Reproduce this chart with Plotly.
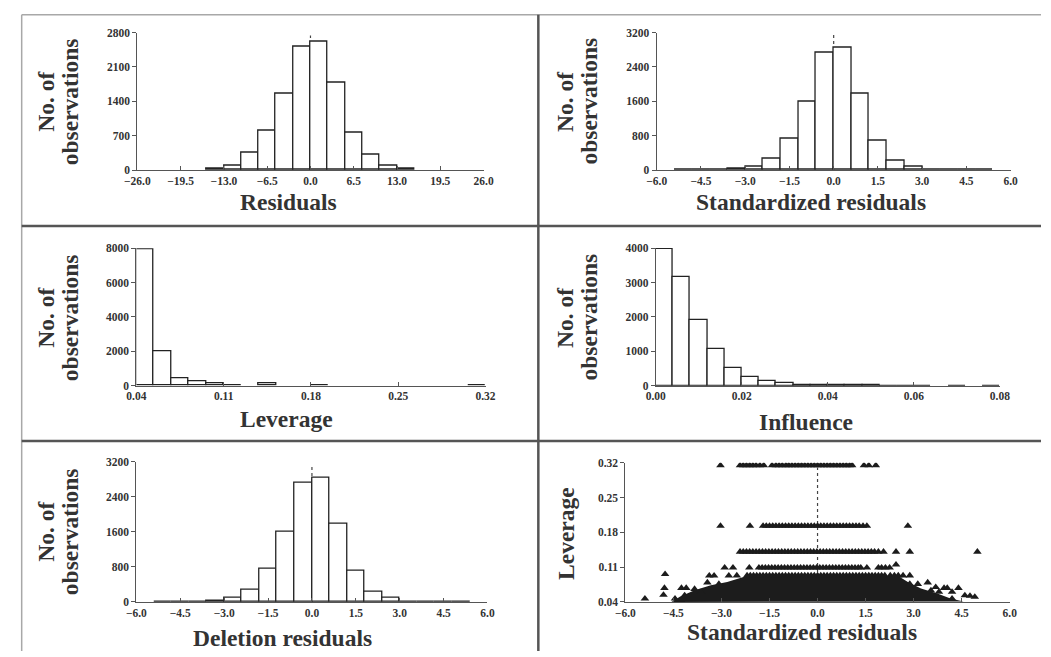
import plotly.graph_objects as go

# The page adds an 8px body margin, so the figure is 8px smaller than the window
OFF = 8
W, H = 1051 - OFF, 657 - OFF

# ---------------- data ----------------
# Residuals histogram (bin width 2.6)
res_bin_left = [-15.6, -13.0, -10.4, -7.8, -5.2, -2.6, 0.0, 2.6, 5.2, 7.8, 10.4, 13.0]
res_counts = [25, 100, 360, 800, 1560, 2510, 2620, 1790, 760, 310, 100, 25]
res_width = 2.6

# Standardized residuals histogram (bin width 0.6)
std_bin_left = [-5.4, -4.8, -4.2, -3.6, -3.0, -2.4, -1.8, -1.2, -0.6, 0.0, 0.6, 1.2, 1.8, 2.4, 3.0, 3.6, 4.2, 4.8]
std_counts = [2, 2, 3, 30, 80, 270, 740, 1590, 2740, 2850, 1775, 690, 220, 80, 8, 3, 2, 2]
std_width = 0.6

# Deletion residuals histogram (bin width 0.6)
del_bin_left = [-5.4, -4.8, -4.2, -3.6, -3.0, -2.4, -1.8, -1.2, -0.6, 0.0, 0.6, 1.2, 1.8, 2.4, 3.0, 3.6, 4.2, 4.8]
del_counts = [2, 2, 3, 30, 90, 285, 755, 1590, 2730, 2830, 1780, 715, 240, 95, 8, 3, 2, 2]
del_width = 0.6

# Leverage histogram (bin width 0.014)
lev_bin_left = [0.040, 0.054, 0.068, 0.082, 0.096, 0.110, 0.138, 0.180, 0.306]
lev_counts = [7950, 2000, 450, 250, 150, 40, 160, 30, 40]
lev_width = 0.014

# Influence histogram (bin width 0.004)
inf_bin_left = [0.000, 0.004, 0.008, 0.012, 0.016, 0.020, 0.024, 0.028, 0.032, 0.036,
                0.040, 0.044, 0.048, 0.052, 0.056, 0.060, 0.068, 0.076]
inf_counts = [3980, 3150, 1910, 1050, 520, 260, 120, 70, 20, 10, 8, 5, 4, 3, 3, 3, 2, 2]
inf_width = 0.004

# Leverage vs standardized residuals scatter: rows of points by leverage level
row_032_lev = 0.315
row_032_x = [-3.03, -2.42, -2.32, -2.22, -2.12, -2.02, -1.92, -1.8, -1.68, -1.42, -1.3, -1.2,
             -1.1, -0.99, -0.9, -0.8, -0.7, -0.6, -0.5, -0.4, -0.3, -0.2, -0.1, 0.0, 0.1, 0.2,
             0.3, 0.4, 0.5, 0.6, 0.7, 0.8, 0.9, 1.0, 1.08, 1.45, 1.6, 1.82]
row_019_lev = 0.193
row_019_x = [-3.03, -2.11, -1.7, -1.6, -1.5, -1.4, -1.3, -1.2, -1.1, -1.0, -0.9, -0.8, -0.7,
             -0.6, -0.5, -0.4, -0.3, -0.2, -0.1, 0.0, 0.1, 0.2, 0.3, 0.4, 0.5, 0.6, 0.7, 0.8,
             0.9, 1.0, 1.1, 1.2, 1.3, 1.42, 1.54, 2.82]
row_014_lev = 0.141
row_014_x = [-2.42, -2.32, -2.22, -2.12, -2.02, -1.92, -1.82, -1.72, -1.62, -1.52, -1.42, -1.32,
             -1.22, -1.12, -1.02, -0.92, -0.82, -0.72, -0.62, -0.52, -0.42, -0.32, -0.22, -0.12,
             -0.02, 0.08, 0.18, 0.28, 0.38, 0.48, 0.58, 0.68, 0.78, 0.88, 0.98, 1.08, 1.18,
             1.28, 1.38, 1.48, 1.58, 1.68, 1.78, 1.9, 2.06, 2.45, 2.88, 4.99]
row_011_lev = 0.109
row_011_x = [-2.9, -2.64, -2.13, -1.83, -1.73, -1.63, -1.53, -1.43, -1.33, -1.23, -1.13, -1.03,
             -0.93, -0.83, -0.73, -0.63, -0.53, -0.43, -0.33, -0.23, -0.13, -0.03, 0.07, 0.17,
             0.27, 0.37, 0.47, 0.57, 0.67, 0.77, 0.87, 0.97, 1.07, 1.17, 1.27, 1.35, 1.54,
             1.9, 2.0, 2.12, 2.25]
row_009_lev = 0.093
row_009_x = [-2.52, -2.2, -2.1, -2.0, -1.9, -1.8, -1.7, -1.6, -1.5, -1.4, -1.3, -1.2, -1.1, -1.0,
             -0.9, -0.8, -0.7, -0.6, -0.5, -0.4, -0.3, -0.2, -0.1, 0.0, 0.1, 0.2, 0.3, 0.4, 0.5,
             0.6, 0.7, 0.8, 0.9, 1.0, 1.1, 1.2, 1.3, 1.4, 1.5, 1.6, 1.7, 1.8, 1.9, 2.0, 2.1,
             2.27, 2.4, 2.52, 2.67, 2.88]
# scattered edge points around the dense mass
edge_x = [-5.39, -4.76, -4.78, -4.81, -4.25, -4.1, -3.84, -3.38, -3.23, -3.44, -2.77, -3.08,
          -3.64, -4.15, -4.45, 2.45, 2.88, 3.13, 3.44, 3.69, 3.95, 4.05, 4.4, 3.54, 3.79, 4.2,
          4.6, 4.76, 4.91, 4.2]
edge_lev = [0.0466, 0.0958, 0.068, 0.054, 0.068, 0.068, 0.066, 0.0927, 0.0927, 0.079, 0.0927,
            0.076, 0.0597, 0.053, 0.0466, 0.115, 0.076, 0.076, 0.079, 0.0696, 0.068, 0.068,
            0.068, 0.063, 0.06, 0.06, 0.053, 0.052, 0.05, 0.0466]
# envelope of the densely overplotted region (lowest leverage values)
dense_x = [-4.56, -4.3, -3.84, -3.33, -2.82, -2.21, 2.52, 2.82, 3.23, 3.74, 4.15, 4.56, -4.56]
dense_lev = [0.040, 0.0505, 0.0637, 0.0735, 0.080, 0.092, 0.092, 0.080, 0.067, 0.057, 0.047, 0.0406, 0.040]

# ---------------- styling helpers ----------------
FONT = "Liberation Serif"
TXT = "#333333"
AX = "#555555"
BAR_LINE = "#222222"
tickfont = dict(family=FONT, size=11.5, color=TXT, weight="bold")


def px2x(px):
    return (px - OFF) / W


def px2y(py):
    return 1 - (py - OFF) / H


def xd(l, r):
    return [px2x(l), px2x(r)]


def yd(b, t):
    return [px2y(b), px2y(t)]


def xaxis(dom, rng, dtick, fmt, anchor):
    return dict(domain=dom, range=rng, tick0=rng[0], dtick=dtick, tickformat=fmt, anchor=anchor,
                showline=True, linecolor=AX, linewidth=1, ticks="inside", ticklen=4,
                tickcolor=AX, tickwidth=1, showgrid=False, zeroline=False, tickfont=tickfont,
                fixedrange=True)


def yaxis(dom, rng, dtick, fmt, anchor):
    return dict(domain=dom, range=rng, tick0=rng[0], dtick=dtick, tickformat=fmt, anchor=anchor,
                showline=True, linecolor=AX, linewidth=1, ticks="outside", ticklen=4,
                tickcolor=AX, tickwidth=1, showgrid=False, zeroline=False, tickfont=tickfont,
                fixedrange=True)


def centers(lefts, w):
    return [v + w / 2 for v in lefts]


def bar(lefts, counts, w, xa, ya):
    return go.Bar(x=centers(lefts, w), y=counts, width=w, xaxis=xa, yaxis=ya,
                  marker=dict(color="white", line=dict(color=BAR_LINE, width=1.3)),
                  showlegend=False, hoverinfo="x+y")


fig = go.Figure()
fig.add_trace(bar(res_bin_left, res_counts, res_width, "x", "y"))
fig.add_trace(bar(std_bin_left, std_counts, std_width, "x2", "y2"))
fig.add_trace(bar(lev_bin_left, lev_counts, lev_width, "x3", "y3"))
fig.add_trace(bar(inf_bin_left, inf_counts, inf_width, "x4", "y4"))
fig.add_trace(bar(del_bin_left, del_counts, del_width, "x5", "y5"))

DARK = "#1c1c1c"
fig.add_trace(go.Scatter(x=dense_x, y=dense_lev, xaxis="x6", yaxis="y6", mode="lines",
                         fill="toself", fillcolor=DARK, line=dict(width=0, color=DARK),
                         showlegend=False, hoverinfo="skip"))
rows = [(row_032_x, row_032_lev), (row_019_x, row_019_lev), (row_014_x, row_014_lev),
        (row_011_x, row_011_lev), (row_009_x, row_009_lev)]
for xs, lev in rows:
    fig.add_trace(go.Scatter(x=xs, y=[lev] * len(xs), xaxis="x6", yaxis="y6", mode="markers",
                             marker=dict(symbol="triangle-up", size=7.5, color=DARK, line=dict(width=0)),
                             showlegend=False))
fig.add_trace(go.Scatter(x=edge_x, y=edge_lev, xaxis="x6", yaxis="y6", mode="markers",
                         marker=dict(symbol="triangle-up", size=7.5, color=DARK, line=dict(width=0)),
                         showlegend=False))

# panel geometry (pixels in the 1051x657 window)
P = {
    1: dict(x=(127, 481), y=(167, 27)),
    2: dict(x=(658, 1020), y=(167, 27)),
    3: dict(x=(126, 483), y=(386.7, 246.7)),
    4: dict(x=(657, 1009), y=(386.7, 246.5)),
    5: dict(x=(126, 485), y=(607, 464.3)),
    6: dict(x=(626, 1019), y=(607, 465.3)),
}

layout = dict(width=W, height=H, autosize=False, margin=dict(l=0, r=0, t=0, b=0),
              paper_bgcolor="white", plot_bgcolor="rgba(0,0,0,0)", bargap=0, showlegend=False)
layout["xaxis"] = xaxis(xd(*P[1]["x"]), [-26, 26], 6.5, ".1f", "y")
layout["yaxis"] = yaxis(yd(*P[1]["y"]), [0, 2800], 700, "d", "x")
layout["xaxis2"] = xaxis(xd(*P[2]["x"]), [-6, 6], 1.5, ".1f", "y2")
layout["yaxis2"] = yaxis(yd(*P[2]["y"]), [0, 3200], 800, "d", "x2")
layout["xaxis3"] = xaxis(xd(*P[3]["x"]), [0.04, 0.32], 0.07, ".2f", "y3")
layout["yaxis3"] = yaxis(yd(*P[3]["y"]), [0, 8000], 2000, "d", "x3")
layout["xaxis4"] = xaxis(xd(*P[4]["x"]), [0, 0.08], 0.02, ".2f", "y4")
layout["yaxis4"] = yaxis(yd(*P[4]["y"]), [0, 4000], 1000, "d", "x4")
layout["xaxis5"] = xaxis(xd(*P[5]["x"]), [-6, 6], 1.5, ".1f", "y5")
layout["yaxis5"] = yaxis(yd(*P[5]["y"]), [0, 3200], 800, "d", "x5")
layout["xaxis6"] = xaxis(xd(*P[6]["x"]), [-6, 6], 1.5, ".1f", "y6")
layout["yaxis6"] = yaxis(yd(*P[6]["y"]), [0.04, 0.32], 0.07, ".2f", "x6")
fig.update_layout(**layout)

# dotted reference lines at zero
dot = dict(color="#444444", width=1.2, dash="dot")
shapes = [
    dict(type="line", xref="x", yref="y", x0=0, x1=0, y0=0, y1=2740, line=dot, layer="below"),
    dict(type="line", xref="x2", yref="y2", x0=0, x1=0, y0=0, y1=3150, line=dot, layer="below"),
    dict(type="line", xref="x5", yref="y5", x0=0, x1=0, y0=0, y1=3120, line=dot, layer="below"),
    dict(type="line", xref="x6", yref="y6", x0=0, x1=0, y0=0.04, y1=0.31, line=dot, layer="below"),
]
# panel frame lines
div = dict(color="#555555", width=2.5)
edge = dict(color="#a8a8a8", width=1.5)
top_y = px2y(8.7)
shapes += [
    dict(type="line", xref="paper", yref="paper", x0=px2x(8.7), x1=1, y0=top_y, y1=top_y, line=edge),
    dict(type="line", xref="paper", yref="paper", x0=px2x(8.7), x1=px2x(8.7), y0=0, y1=top_y, line=edge),
    dict(type="line", xref="paper", yref="paper", x0=px2x(537), x1=px2x(537), y0=0, y1=top_y, line=div),
    dict(type="line", xref="paper", yref="paper", x0=px2x(8.7), x1=1, y0=px2y(224), y1=px2y(224), line=div),
    dict(type="line", xref="paper", yref="paper", x0=px2x(8.7), x1=1, y0=px2y(443), y1=px2y(443), line=div),
]
fig.update_layout(shapes=shapes)

tfont = dict(family=FONT, size=23.5, color=TXT, weight="bold")


def ann(text, px, py, angle=0):
    return dict(text=text, x=px2x(px), y=px2y(py), xref="paper", yref="paper", showarrow=False,
                xanchor="center", yanchor="middle", textangle=angle, font=tfont)


annotations = [
    ann("Residuals", 282, 200),
    ann("Standardized residuals", 816, 200),
    ann("Leverage", 279, 421),
    ann("Influence", 811, 424),
    ann("Deletion residuals", 275.5, 644),
    ann("Standardized residuals", 807, 638),
    ann("Leverage", 566, 537, -90),
]
for (lx, ox, cy) in [(34, 58, 97), (565, 589, 97), (34, 58, 317), (565, 589, 317), (34, 58, 535)]:
    annotations.append(ann("No. of", lx, cy, -90))
    annotations.append(ann("observations", ox, cy, -90))
fig.update_layout(annotations=annotations)

fig.write_html("out.html")
